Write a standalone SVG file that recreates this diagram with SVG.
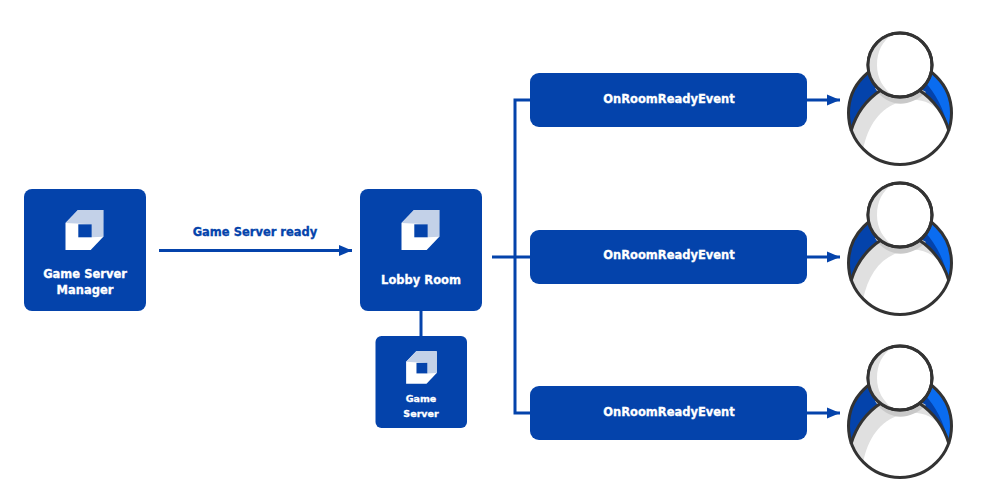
<svg xmlns="http://www.w3.org/2000/svg" width="1000" height="500" viewBox="0 0 1000 500">
<style>
.box{fill:#0443ab}
.t{font-family:"DejaVu Sans",sans-serif;font-weight:700;fill:#fff;text-anchor:middle;stroke:#fff;stroke-width:.3}
.l{fill:none;stroke:#0443ab;stroke-width:3}
.o{fill:none;stroke:#333;stroke-width:3}
</style>
<defs>
<marker id="a" markerUnits="userSpaceOnUse" markerWidth="14" markerHeight="12" refX="13" refY="6" orient="auto"><path d="M0 0.500L13 6L0 11.500z" fill="#0443ab"/></marker>
<symbol id="cube" overflow="visible">
<path d="M-19-7L-6.500-20H18.800V6.700L6.200 20H-19z" fill="#fff"/>
<path d="M-6.500-20H18.800V6.700L7.200 7.300V-5.700L-19-7z" fill="#c3d1e8"/>
<rect x="-6.200" y="-5.700" width="13.400" height="13" fill="#0443ab"/>
</symbol>
<symbol id="user" overflow="visible">
<circle cx="900" cy="113" r="51.500" fill="#fff"/>
<path d="M868 73A51.500 51.500 0 0 0 851 131C856 114 866 100 881 90z" fill="#0443ab"/>
<path d="M932 73A51.500 51.500 0 0 1 949 131C944 114 934 100 919 90z" fill="#0a6cf0"/>
<path d="M925 82C935 93 944 108 949 131C944 114 934 100 919 90z" fill="#0443ab"/>
<path d="M881 90C866 100 856 114 851 131C854 139 858 145 863 150C868 125 880 108 900 102C915 97 932 100 943 116C936 105 928 96 919 90z" fill="#e0e0e0"/>
<path d="M875 88C885 106 908 110 926 92L919 88L881 88z" fill="#c9c9c9"/>
<circle cx="900" cy="113" r="51.500" class="o"/>
<path d="M851 131C856 114 866 100 881 90M949 131C944 114 934 100 919 90" class="o"/>
<circle cx="900" cy="65" r="32" fill="#fff" stroke="#333" stroke-width="3"/>
<path d="M893 34C876 37 868 50 868 65C868 81 877 93 893 96C883 88 877 78 877 65C877 52 882 41 893 34z" fill="#e0e0e0"/>
<circle cx="900" cy="65" r="32" class="o"/>
</symbol>
</defs>
<g id="connectors">
<path class="l" d="M159 250.500H352" marker-end="url(#a)"/>
<path class="l" d="M421 311V336"/>
<path class="l" d="M492 257H531"/>
<path class="l" d="M531 100H515V413H531"/>
<path class="l" d="M807 100H840" marker-end="url(#a)"/>
<path class="l" d="M807 257H840" marker-end="url(#a)"/>
<path class="l" d="M807 413H840" marker-end="url(#a)"/>
</g>
<text x="255" y="236" font-family="DejaVu Sans,sans-serif" font-weight="700" font-size="11.500" fill="#0443ab" stroke="#0443ab" stroke-width=".3" text-anchor="middle">Game Server ready</text>
<g id="manager"><rect class="box" x="24" y="189" width="122" height="122" rx="8"/><use href="#cube" x="84.500" y="230"/><text class="t" x="85" y="278" font-size="11.500">Game Server</text><text class="t" x="85" y="294" font-size="11.500">Manager</text></g>
<g id="lobby"><rect class="box" x="360" y="189" width="122" height="122" rx="8"/><use href="#cube" x="420.500" y="230"/><text class="t" x="421" y="284" font-size="11.500">Lobby Room</text></g>
<g id="gameserver"><rect class="box" x="375.500" y="336" width="91.500" height="92" rx="6"/><g transform="translate(421.500 367.500) scale(.81)"><use href="#cube"/></g><text class="t" x="421" y="402" font-size="9.500">Game</text><text class="t" x="421" y="417" font-size="9.500">Server</text></g>
<g id="event1"><rect class="box" x="530" y="73" width="277" height="54" rx="9"/><text class="t" x="669" y="103" font-size="11.500">OnRoomReadyEvent</text></g>
<g id="event2"><rect class="box" x="530" y="230" width="277" height="54" rx="9"/><text class="t" x="669" y="259" font-size="11.500">OnRoomReadyEvent</text></g>
<g id="event3"><rect class="box" x="530" y="386" width="277" height="54" rx="9"/><text class="t" x="669" y="416" font-size="11.500">OnRoomReadyEvent</text></g>
<g id="user1"><use href="#user"/></g>
<g id="user2"><use href="#user" y="150"/></g>
<g id="user3"><use href="#user" y="313"/></g>
</svg>
